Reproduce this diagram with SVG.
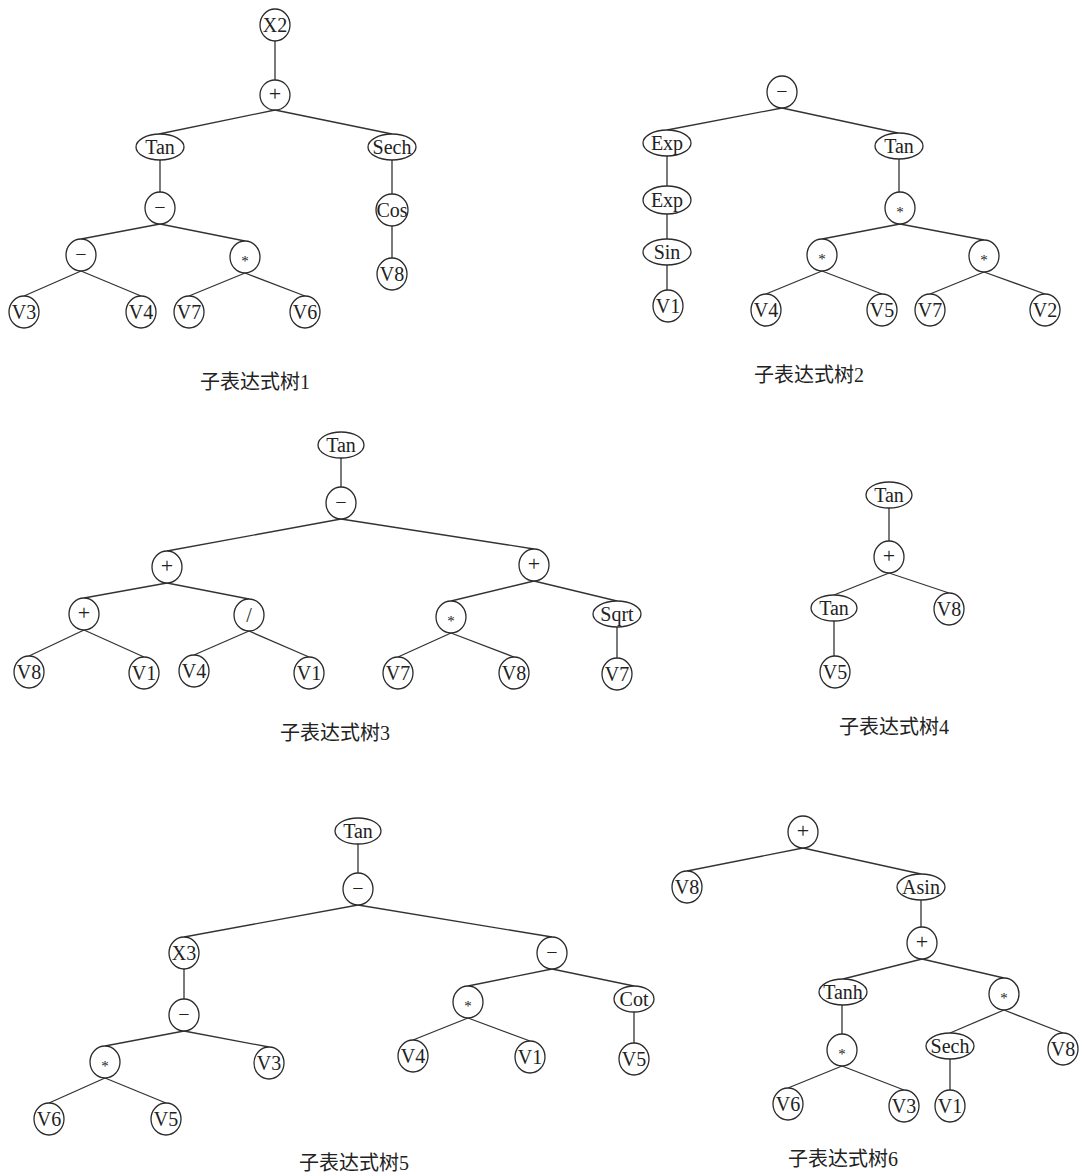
<svg xmlns="http://www.w3.org/2000/svg" width="1081" height="1176" viewBox="0 0 1081 1176">
<style>
.e line{stroke:#333;stroke-width:1.3}
.n ellipse{fill:#fff;stroke:#2b2b2b;stroke-width:1.3}
.n text{font-family:"Liberation Serif","Times New Roman",serif;font-size:20px;text-anchor:middle;fill:#222}
.n text.op{font-size:22px}
.n text.mn{font-size:20px}
.n text.st{font-size:15px}
.lb{font-family:"Liberation Serif","Noto Sans CJK SC",serif;font-size:20px;text-anchor:middle;fill:#222}
</style>
<rect width="1081" height="1176" fill="#fff"/>
<g id="connectors" class="e">
<line x1="275" y1="41" x2="275" y2="80"/>
<line x1="275" y1="110" x2="159" y2="134"/>
<line x1="275" y1="110" x2="392" y2="134"/>
<line x1="160" y1="160" x2="160" y2="192"/>
<line x1="392" y1="160" x2="392" y2="194"/>
<line x1="392" y1="226" x2="392" y2="258"/>
<line x1="160" y1="224" x2="81" y2="239"/>
<line x1="160" y1="224" x2="245" y2="241"/>
<line x1="81" y1="271" x2="24" y2="296"/>
<line x1="81" y1="271" x2="141" y2="296"/>
<line x1="245" y1="273" x2="189" y2="296"/>
<line x1="245" y1="273" x2="305" y2="296"/>
<line x1="782" y1="108" x2="667" y2="130"/>
<line x1="782" y1="108" x2="898" y2="133"/>
<line x1="667" y1="156" x2="667" y2="186"/>
<line x1="667" y1="214" x2="667" y2="239"/>
<line x1="667" y1="265" x2="667" y2="290"/>
<line x1="899" y1="159" x2="899" y2="192"/>
<line x1="900" y1="224" x2="822" y2="239"/>
<line x1="900" y1="224" x2="984" y2="240"/>
<line x1="822" y1="271" x2="766" y2="294"/>
<line x1="822" y1="271" x2="882" y2="294"/>
<line x1="984" y1="272" x2="930" y2="294"/>
<line x1="984" y1="272" x2="1045" y2="294"/>
<line x1="341" y1="458" x2="341" y2="487"/>
<line x1="341" y1="519" x2="167" y2="551"/>
<line x1="341" y1="519" x2="534" y2="549"/>
<line x1="167" y1="583" x2="84" y2="598"/>
<line x1="167" y1="583" x2="249" y2="599"/>
<line x1="534" y1="581" x2="451" y2="601"/>
<line x1="534" y1="581" x2="617" y2="601"/>
<line x1="84" y1="630" x2="29" y2="656"/>
<line x1="84" y1="630" x2="144" y2="657"/>
<line x1="249" y1="631" x2="194" y2="655"/>
<line x1="249" y1="631" x2="309" y2="657"/>
<line x1="451" y1="633" x2="398" y2="657"/>
<line x1="451" y1="633" x2="514" y2="657"/>
<line x1="617" y1="627" x2="617" y2="658"/>
<line x1="889" y1="508" x2="889" y2="541"/>
<line x1="889" y1="573" x2="834" y2="595"/>
<line x1="889" y1="573" x2="949" y2="593"/>
<line x1="834" y1="621" x2="834" y2="656"/>
<line x1="358" y1="844" x2="358" y2="873"/>
<line x1="358" y1="905" x2="184" y2="937"/>
<line x1="358" y1="905" x2="552" y2="937"/>
<line x1="184" y1="969" x2="184" y2="999"/>
<line x1="184" y1="1031" x2="105" y2="1046"/>
<line x1="184" y1="1031" x2="269" y2="1047"/>
<line x1="105" y1="1078" x2="49" y2="1103"/>
<line x1="105" y1="1078" x2="166" y2="1103"/>
<line x1="552" y1="969" x2="468" y2="986"/>
<line x1="552" y1="969" x2="634" y2="986"/>
<line x1="468" y1="1018" x2="413" y2="1040"/>
<line x1="468" y1="1018" x2="530" y2="1041"/>
<line x1="634" y1="1012" x2="634" y2="1043"/>
<line x1="803" y1="848" x2="687" y2="871"/>
<line x1="803" y1="848" x2="921" y2="874"/>
<line x1="921" y1="900" x2="921" y2="927"/>
<line x1="922" y1="959" x2="843" y2="979"/>
<line x1="922" y1="959" x2="1004" y2="978"/>
<line x1="842" y1="1005" x2="842" y2="1034"/>
<line x1="842" y1="1066" x2="788" y2="1088"/>
<line x1="842" y1="1066" x2="904" y2="1090"/>
<line x1="1004" y1="1010" x2="950" y2="1033"/>
<line x1="1004" y1="1010" x2="1063" y2="1033"/>
<line x1="950" y1="1059" x2="950" y2="1090"/>
</g>

<g id="t1_x2" class="n"><ellipse cx="275" cy="25" rx="15" ry="16"/><text x="275" y="32">X2</text></g>
<g id="t1_plus" class="n"><ellipse cx="275" cy="95" rx="15" ry="15"/><text class="op" x="275" y="101">+</text></g>
<g id="t1_tan" class="n"><ellipse cx="160" cy="147" rx="24" ry="13"/><text x="160" y="154">Tan</text></g>
<g id="t1_sech" class="n"><ellipse cx="392" cy="147" rx="24" ry="13"/><text x="392" y="154">Sech</text></g>
<g id="t1_minus" class="n"><ellipse cx="160" cy="208" rx="15" ry="16"/><text class="mn" x="160" y="213.5">−</text></g>
<g id="t1_cos" class="n"><ellipse cx="392" cy="210" rx="16" ry="16"/><text x="392" y="217">Cos</text></g>
<g id="t1_v8" class="n"><ellipse cx="392" cy="274" rx="15" ry="16"/><text x="392" y="281">V8</text></g>
<g id="t1_minus2" class="n"><ellipse cx="81" cy="255" rx="15" ry="16"/><text class="mn" x="81" y="260.5">−</text></g>
<g id="t1_mul" class="n"><ellipse cx="245" cy="257" rx="15" ry="16"/><text class="st" x="245" y="266">*</text></g>
<g id="t1_v3" class="n"><ellipse cx="24" cy="312" rx="15" ry="16"/><text x="24" y="319">V3</text></g>
<g id="t1_v4" class="n"><ellipse cx="141" cy="312" rx="15" ry="16"/><text x="141" y="319">V4</text></g>
<g id="t1_v7" class="n"><ellipse cx="189" cy="312" rx="15" ry="16"/><text x="189" y="319">V7</text></g>
<g id="t1_v6" class="n"><ellipse cx="305" cy="312" rx="15" ry="16"/><text x="305" y="319">V6</text></g>
<text class="lb" x="255" y="389">子表达式树1</text>

<g id="t2_minus" class="n"><ellipse cx="782" cy="92" rx="15" ry="16"/><text class="mn" x="782" y="97.5">−</text></g>
<g id="t2_exp1" class="n"><ellipse cx="667" cy="143" rx="24" ry="13"/><text x="667" y="150">Exp</text></g>
<g id="t2_tan" class="n"><ellipse cx="899" cy="146" rx="24" ry="13"/><text x="899" y="153">Tan</text></g>
<g id="t2_exp2" class="n"><ellipse cx="667" cy="200" rx="24" ry="14"/><text x="667" y="207">Exp</text></g>
<g id="t2_sin" class="n"><ellipse cx="667" cy="252" rx="24" ry="13"/><text x="667" y="259">Sin</text></g>
<g id="t2_v1" class="n"><ellipse cx="668" cy="306" rx="15" ry="16"/><text x="668" y="313">V1</text></g>
<g id="t2_mul" class="n"><ellipse cx="900" cy="208" rx="15" ry="16"/><text class="st" x="900" y="217">*</text></g>
<g id="t2_mulL" class="n"><ellipse cx="822" cy="255" rx="15" ry="16"/><text class="st" x="822" y="264">*</text></g>
<g id="t2_mulR" class="n"><ellipse cx="984" cy="256" rx="15" ry="16"/><text class="st" x="984" y="265">*</text></g>
<g id="t2_v4" class="n"><ellipse cx="766" cy="310" rx="15" ry="16"/><text x="766" y="317">V4</text></g>
<g id="t2_v5" class="n"><ellipse cx="882" cy="310" rx="15" ry="16"/><text x="882" y="317">V5</text></g>
<g id="t2_v7" class="n"><ellipse cx="930" cy="310" rx="15" ry="16"/><text x="930" y="317">V7</text></g>
<g id="t2_v2" class="n"><ellipse cx="1045" cy="310" rx="15" ry="16"/><text x="1045" y="317">V2</text></g>
<text class="lb" x="809" y="382">子表达式树2</text>

<g id="t3_tan" class="n"><ellipse cx="341" cy="445" rx="23" ry="13"/><text x="341" y="452">Tan</text></g>
<g id="t3_minus" class="n"><ellipse cx="341" cy="503" rx="15" ry="16"/><text class="mn" x="341" y="508.5">−</text></g>
<g id="t3_plusL" class="n"><ellipse cx="167" cy="567" rx="15" ry="16"/><text class="op" x="167" y="573">+</text></g>
<g id="t3_plusR" class="n"><ellipse cx="534" cy="565" rx="15" ry="16"/><text class="op" x="534" y="571">+</text></g>
<g id="t3_plusLL" class="n"><ellipse cx="84" cy="614" rx="15" ry="16"/><text class="op" x="84" y="620">+</text></g>
<g id="t3_div" class="n"><ellipse cx="249" cy="615" rx="15" ry="16"/><text x="249" y="621.5">/</text></g>
<g id="t3_mul" class="n"><ellipse cx="451" cy="617" rx="15" ry="16"/><text class="st" x="451" y="626">*</text></g>
<g id="t3_sqrt" class="n"><ellipse cx="617" cy="614" rx="24" ry="13"/><text x="617" y="621">Sqrt</text></g>
<g id="t3_v8" class="n"><ellipse cx="29" cy="672" rx="15" ry="16"/><text x="29" y="679">V8</text></g>
<g id="t3_v1" class="n"><ellipse cx="144" cy="673" rx="15" ry="16"/><text x="144" y="680">V1</text></g>
<g id="t3_v4" class="n"><ellipse cx="194" cy="671" rx="15" ry="16"/><text x="194" y="678">V4</text></g>
<g id="t3_v1b" class="n"><ellipse cx="309" cy="673" rx="15" ry="16"/><text x="309" y="680">V1</text></g>
<g id="t3_v7" class="n"><ellipse cx="398" cy="673" rx="15" ry="16"/><text x="398" y="680">V7</text></g>
<g id="t3_v8b" class="n"><ellipse cx="514" cy="673" rx="15" ry="16"/><text x="514" y="680">V8</text></g>
<g id="t3_v7b" class="n"><ellipse cx="617" cy="674" rx="15" ry="16"/><text x="617" y="681">V7</text></g>
<text class="lb" x="335" y="740">子表达式树3</text>

<g id="t4_tan" class="n"><ellipse cx="889" cy="495" rx="23" ry="13"/><text x="889" y="502">Tan</text></g>
<g id="t4_plus" class="n"><ellipse cx="889" cy="557" rx="15" ry="16"/><text class="op" x="889" y="563">+</text></g>
<g id="t4_tan2" class="n"><ellipse cx="834" cy="608" rx="23" ry="13"/><text x="834" y="615">Tan</text></g>
<g id="t4_v8" class="n"><ellipse cx="949" cy="609" rx="15" ry="16"/><text x="949" y="616">V8</text></g>
<g id="t4_v5" class="n"><ellipse cx="835" cy="672" rx="15" ry="16"/><text x="835" y="679">V5</text></g>
<text class="lb" x="894" y="734">子表达式树4</text>

<g id="t5_tan" class="n"><ellipse cx="358" cy="831" rx="23" ry="13"/><text x="358" y="838">Tan</text></g>
<g id="t5_minus" class="n"><ellipse cx="358" cy="889" rx="15" ry="16"/><text class="mn" x="358" y="894.5">−</text></g>
<g id="t5_x3" class="n"><ellipse cx="184" cy="953" rx="15" ry="16"/><text x="184" y="960">X3</text></g>
<g id="t5_minusR" class="n"><ellipse cx="552" cy="953" rx="15" ry="16"/><text class="mn" x="552" y="958.5">−</text></g>
<g id="t5_minus2" class="n"><ellipse cx="184" cy="1015" rx="15" ry="16"/><text class="mn" x="184" y="1020.5">−</text></g>
<g id="t5_mul" class="n"><ellipse cx="105" cy="1062" rx="15" ry="16"/><text class="st" x="105" y="1071">*</text></g>
<g id="t5_v3" class="n"><ellipse cx="269" cy="1063" rx="15" ry="16"/><text x="269" y="1070">V3</text></g>
<g id="t5_v6" class="n"><ellipse cx="49" cy="1119" rx="15" ry="16"/><text x="49" y="1126">V6</text></g>
<g id="t5_v5" class="n"><ellipse cx="166" cy="1119" rx="15" ry="16"/><text x="166" y="1126">V5</text></g>
<g id="t5_mulR" class="n"><ellipse cx="468" cy="1002" rx="15" ry="16"/><text class="st" x="468" y="1011">*</text></g>
<g id="t5_cot" class="n"><ellipse cx="634" cy="999" rx="20" ry="13"/><text x="634" y="1006">Cot</text></g>
<g id="t5_v4" class="n"><ellipse cx="413" cy="1056" rx="15" ry="16"/><text x="413" y="1063">V4</text></g>
<g id="t5_v1" class="n"><ellipse cx="530" cy="1057" rx="15" ry="16"/><text x="530" y="1064">V1</text></g>
<g id="t5_v5b" class="n"><ellipse cx="634" cy="1059" rx="15" ry="16"/><text x="634" y="1066">V5</text></g>
<text class="lb" x="354" y="1170">子表达式树5</text>

<g id="t6_plus" class="n"><ellipse cx="803" cy="832" rx="15" ry="16"/><text class="op" x="803" y="838">+</text></g>
<g id="t6_v8" class="n"><ellipse cx="687" cy="887" rx="15" ry="16"/><text x="687" y="894">V8</text></g>
<g id="t6_asin" class="n"><ellipse cx="921" cy="887" rx="24" ry="13"/><text x="921" y="894">Asin</text></g>
<g id="t6_plus2" class="n"><ellipse cx="922" cy="943" rx="15" ry="16"/><text class="op" x="922" y="949">+</text></g>
<g id="t6_tanh" class="n"><ellipse cx="843" cy="992" rx="24" ry="13"/><text x="843" y="999">Tanh</text></g>
<g id="t6_mulR" class="n"><ellipse cx="1004" cy="994" rx="15" ry="16"/><text class="st" x="1004" y="1003">*</text></g>
<g id="t6_mul" class="n"><ellipse cx="842" cy="1050" rx="15" ry="16"/><text class="st" x="842" y="1059">*</text></g>
<g id="t6_sech" class="n"><ellipse cx="950" cy="1046" rx="24" ry="13"/><text x="950" y="1053">Sech</text></g>
<g id="t6_v8b" class="n"><ellipse cx="1063" cy="1049" rx="15" ry="16"/><text x="1063" y="1056">V8</text></g>
<g id="t6_v6" class="n"><ellipse cx="788" cy="1104" rx="15" ry="16"/><text x="788" y="1111">V6</text></g>
<g id="t6_v3" class="n"><ellipse cx="904" cy="1106" rx="15" ry="16"/><text x="904" y="1113">V3</text></g>
<g id="t6_v1" class="n"><ellipse cx="950" cy="1106" rx="15" ry="16"/><text x="950" y="1113">V1</text></g>
<text class="lb" x="843" y="1166">子表达式树6</text>
</svg>
